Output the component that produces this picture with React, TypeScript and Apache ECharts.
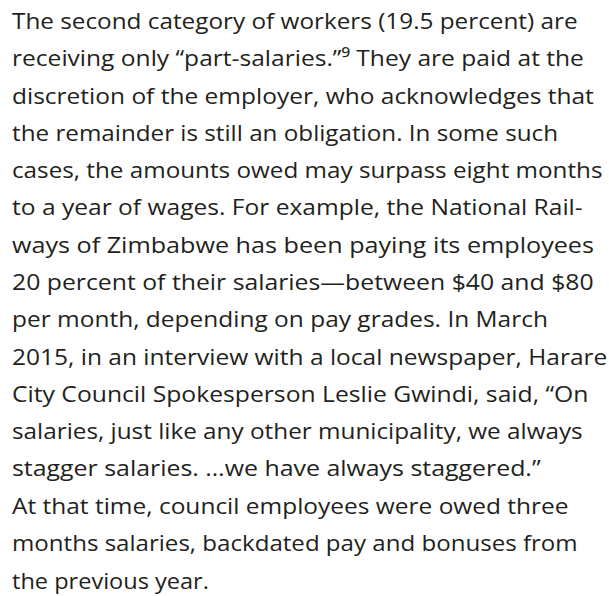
import React, { useEffect, useRef } from "react";
import * as echarts from "echarts";

const lines: string[] = [
  "The second category of workers (19.5 percent) are",
  "receiving only \u201cpart-salaries.\u201d\u2079 They are paid at the",
  "discretion of the employer, who acknowledges that",
  "the remainder is still an obligation. In some such",
  "cases, the amounts owed may surpass eight months",
  "to a year of wages. For example, the National Rail-",
  "ways of Zimbabwe has been paying its employees",
  "20 percent of their salaries\u2014between $40 and $80",
  "per month, depending on pay grades. In March",
  "2015, in an interview with a local newspaper, Harare",
  "City Council Spokesperson Leslie Gwindi, said, \u201cOn",
  "salaries, just like any other municipality, we always",
  "stagger salaries. \u2026we have always staggered.\u201d",
  "At that time, council employees were owed three",
  "months salaries, backdated pay and bonuses from",
  "the previous year.",
];

// layout: right edge (px) of each printed line in the reference
const lineRightEdge: number[] = [
  577, 583, 593, 557, 602, 582, 593, 593, 547, 607, 588, 582, 540, 568, 577, 208,
];

const W = 609;
const H = 596;
const LEFT = 12;
const FIRST_BASELINE = 29;
const STEP = 37.3;
const FONT_SIZE = 22.5;
const FONT_FAMILY = "'Open Sans', 'Noto Sans', sans-serif";
const CENTRAL_OFFSET = 8.7; // baseline -> central baseline distance

function measure(text: string): number {
  const c = document.createElement("canvas");
  const ctx = c.getContext("2d");
  if (!ctx) return 1;
  ctx.font = `${FONT_SIZE}px ${FONT_FAMILY}`;
  return ctx.measureText(text).width;
}

export default function App() {
  const ref = useRef<HTMLDivElement>(null);
  useEffect(() => {
    if (!ref.current) return;
    const chart = echarts.init(ref.current, null, { renderer: "svg" });
    chart.setOption({
      animation: false,
      backgroundColor: "#ffffff",
      graphic: lines.map((t, i) => {
        const w = measure(t);
        const target = lineRightEdge[i] - LEFT + 1;
        const sx = w > 0 ? target / w : 1;
        return {
          type: "text",
          x: LEFT,
          y: FIRST_BASELINE + i * STEP - CENTRAL_OFFSET,
          scaleX: sx,
          style: {
            text: t,
            x: 0,
            y: 0,
            align: "left",
            verticalAlign: "middle",
            fontFamily: FONT_FAMILY,
            fontSize: FONT_SIZE,
            fill: "#231f20",
          },
        };
      }),
    });
    return () => chart.dispose();
  }, []);
  return (
    <div
      ref={ref}
      style={{ position: "fixed", left: 0, top: 0, width: W, height: H, background: "#fff" }}
    />
  );
}
